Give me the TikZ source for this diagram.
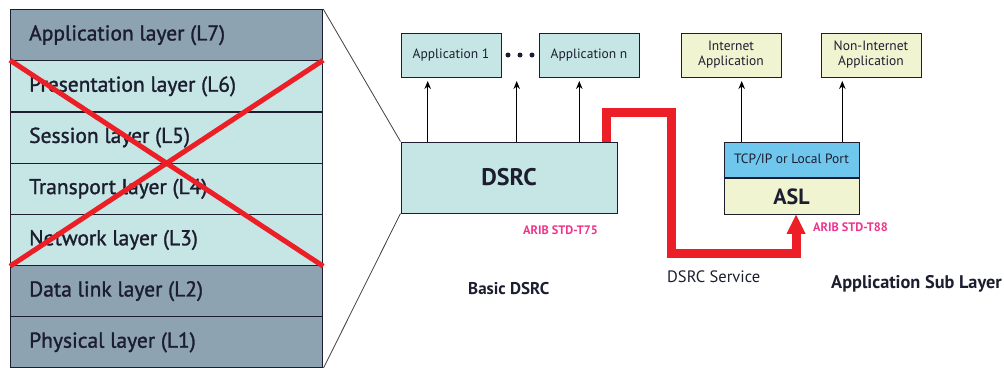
\documentclass[tikz,border=0pt]{standalone}
\usepackage{fontspec}
\setmainfont{PT Sans}
\newfontfamily\medfont[FakeBold=1.4]{PT Sans}
\usetikzlibrary{arrows.meta,calc}

\definecolor{layerdark}{RGB}{142,163,177}
\definecolor{layerlight}{RGB}{198,230,229}
\definecolor{boxyellow}{RGB}{241,244,208}
\definecolor{portblue}{RGB}{112,199,238}
\definecolor{crossred}{RGB}{236,30,38}
\definecolor{aribpink}{RGB}{238,52,140}
\definecolor{ink}{RGB}{28,30,48}

\tikzset{
  layer/.style={draw=ink, line width=1.2pt, minimum width=312pt, minimum height=51.2pt,
    inner sep=0pt},
  darklayer/.style={layer, fill=layerdark},
  lightlayer/.style={layer, fill=layerlight},
  layertext/.style={text=ink, font=\medfont\fontsize{21.5}{21.5}\selectfont, anchor=west, inner sep=0pt},
  appbox/.style={draw=ink, line width=1pt, minimum width=100pt, minimum height=44pt,
    inner sep=0pt, align=center, font=\fontsize{13.5}{15}\selectfont, text=ink},
  upar/.style={draw=black, line width=1.1pt, -{Stealth[length=8pt,width=6.5pt]}},
  arib/.style={text=aribpink, font=\bfseries\fontsize{12.3}{12.3}\selectfont, inner sep=0pt},
  caption/.style={text=ink, font=\bfseries\fontsize{17}{17}\selectfont, inner sep=0pt},
  zoomline/.style={draw=black!75, line width=0.8pt},
  crossline/.style={draw=crossred, line width=5pt},
  service/.style={draw=crossred, line width=9pt, line join=miter},
  dot/.style={circle, fill=ink, inner sep=0pt, minimum size=5pt},
}

\begin{document}
\begin{tikzpicture}[x=1pt, y=-1pt]
  \useasboundingbox (0,0) rectangle (1004,367);

  % OSI reference stack
  \foreach \name/\txt/\sty [count=\i from 0] in {
      l7/{Application layer (L7)}/darklayer,
      l6/{Presentation layer (L6)}/lightlayer,
      l5/{Session layer (L5)}/lightlayer,
      l4/{Transport layer (L4)}/lightlayer,
      l3/{Network layer (L3)}/lightlayer,
      l2/{Data link layer (L2)}/darklayer,
      l1/{Physical layer (L1)}/darklayer} {
    \node[\sty, anchor=north west] (\name) at (10, 9+51.2*\i) {};
    \node[layertext] (\name txt) at ($(\name.west)+(19,0)$) {\txt};
  }

  % layers L6 to L3 struck out
  \draw[crossline] (l6.north west) -- (l3.south east);
  \draw[crossline] (l6.north east) -- (l3.south west);

  % DSRC block and its applications
  \node[draw=ink, line width=1pt, fill=layerlight, minimum width=216pt, minimum height=71pt,
        inner sep=0pt, font=\bfseries\fontsize{24}{24}\selectfont, text=ink]
        (dsrc) at (509,177.5) {DSRC};
  \node[appbox, fill=layerlight] (app1) at (451,55) {Application 1};
  \node[appbox, fill=layerlight] (appn) at (589,55) {Application n};
  \node[dot] (d1) at (508,55) {};
  \node[dot] (d2) at (520,55) {};
  \node[dot] (d3) at (532,55) {};

  \draw[zoomline] (l7.north east) -- (dsrc.north west);
  \draw[zoomline] (l1.south east) -- (dsrc.south west);

  \coordinate (a1) at (427.7,142);
  \coordinate (a2) at (516.7,142);
  \coordinate (a3) at (579.3,142);
  \draw[upar] (a1) -- (a1 |- 0,81);
  \draw[upar] (a2) -- (a2 |- 0,81);
  \draw[upar] (a3) -- (a3 |- 0,81);

  \node[arib, anchor=west] (t75) at (523,230) {ARIB STD-T75};
  \node[caption, anchor=west] (basic) at (468,289) {Basic DSRC};

  % Application Sub Layer
  \node[draw=ink, line width=1pt, fill=portblue, minimum width=135pt, minimum height=35.5pt,
        inner sep=0pt, font=\fontsize{13.5}{13.5}\selectfont, text=ink]
        (port) at (791.5,160) {TCP/IP or Local Port};
  \node[draw=ink, line width=1pt, fill=boxyellow, minimum width=135pt, minimum height=35.5pt,
        inner sep=0pt, font=\bfseries\fontsize{22}{22}\selectfont, text=ink, anchor=north]
        (asl) at (port.south) {ASL};
  \node[appbox, fill=boxyellow] (inet) at (731,55) {Internet\\Application};
  \node[appbox, fill=boxyellow] (ninet) at (871,55) {Non-Internet\\Application};

  \coordinate (b1) at (741.7,142);
  \coordinate (b2) at (842.3,142);
  \draw[upar] (b1) -- (b1 |- 0,81);
  \draw[upar] (b2) -- (b2 |- 0,81);

  \node[arib, anchor=west] (t88) at (813,227) {ARIB STD-T88};
  \node[caption, anchor=west, font=\bfseries\fontsize{18.3}{18.3}\selectfont] (asub) at (831,284) {Application Sub Layer};

  % DSRC service route from DSRC to ASL
  \coordinate (s0) at ($(dsrc.north east)+(-11,0)$);
  \coordinate (s5) at ($(asl.south)+(4.5,0)$);
  \draw[service] (s0) -- (s0 |- 0,112) -- (671,112) -- (671,253) -- (s5 |- 0,253)
    -- ($(s5)+(0,18)$);
  \fill[crossred] (s5) -- ($(s5)+(-9.5,19)$) -- ($(s5)+(9.5,19)$) -- cycle;
  \node[text=ink, font=\fontsize{16.5}{16.5}\selectfont, anchor=west, inner sep=0pt]
    (svc) at (667,277) {DSRC Service};
\end{tikzpicture}
\end{document}
